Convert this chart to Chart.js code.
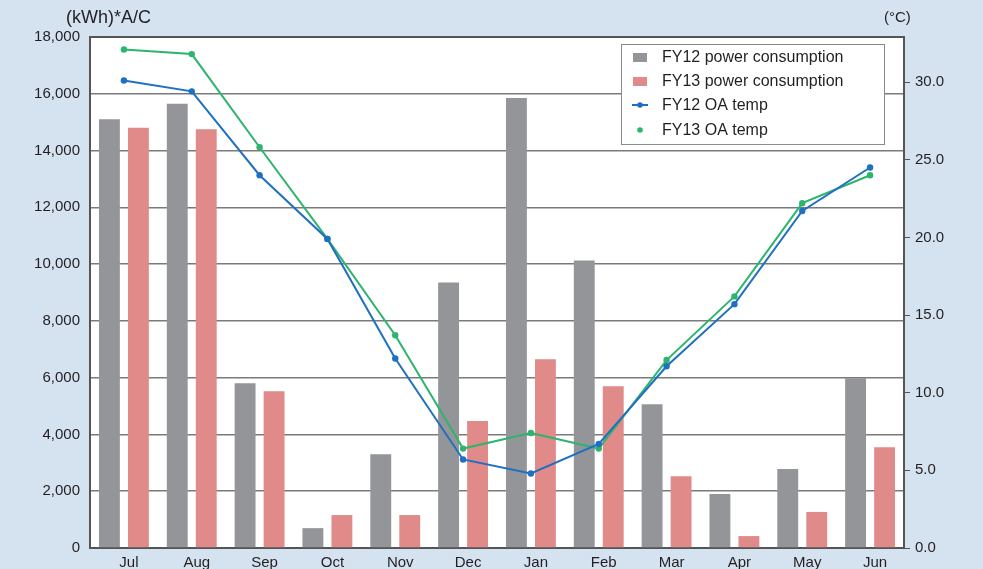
<!DOCTYPE html>
<html>
<head>
<meta charset="utf-8">
<script src="https://cdn.jsdelivr.net/npm/chart.js@4"></script>
<style>
  html, body { margin: 0; padding: 0; background: #d5e2f0; }
  #wrap { width: 983px; height: 569px; position: relative; }
</style>
</head>
<body>
<div id="wrap"><canvas id="myChart" width="983" height="569"></canvas></div>
<script>
// data
var months = ['Jul', 'Aug', 'Sep', 'Oct', 'Nov', 'Dec', 'Jan', 'Feb', 'Mar', 'Apr', 'May', 'Jun'];
var power12 = [15100, 15650, 5800, 700, 3300, 9350, 15850, 10130, 5060, 1900, 2780, 5980];
var power13 = [14800, 14750, 5520, 1160, 1160, 4470, 6650, 5700, 2530, 420, 1270, 3550];
var temp12 = [30.1, 29.4, 24.0, 19.9, 12.2, 5.7, 4.8, 6.7, 11.7, 15.7, 21.7, 24.5];
var temp13 = [32.1, 31.8, 25.8, 19.9, 13.7, 6.4, 7.4, 6.4, 12.1, 16.2, 22.2, 24.0];
var leftTicks = [0, 2000, 4000, 6000, 8000, 10000, 12000, 14000, 16000, 18000];
var rightTicks = [0, 5, 10, 15, 20, 25, 30];

var grey = '#939598';
var pink = '#e08a8a';
var blue = '#1f70c1';
var green = '#2db46e';
var textCol = '#231f20';
var fontFam = '"Liberation Sans", Arial, sans-serif';

var decor = {
    id: 'decor',
    beforeDraw: function(chart){
        var ctx = chart.ctx;
        var a = chart.chartArea;
        ctx.save();
        ctx.fillStyle = '#d5e2f0';
        ctx.fillRect(0, 0, chart.width, chart.height);
        ctx.fillStyle = '#ffffff';
        ctx.fillRect(a.left, a.top, a.right - a.left, a.bottom - a.top);
        ctx.restore();
    },
    afterDraw: function(chart){
        var ctx = chart.ctx;
        var a = chart.chartArea;
        ctx.save();
        // top frame line
        ctx.strokeStyle = '#555555';
        ctx.lineWidth = 2;
        ctx.beginPath();
        ctx.moveTo(a.left, a.top);
        ctx.lineTo(a.right, a.top);
        ctx.stroke();

        // axis unit labels
        ctx.fillStyle = textCol;
        ctx.textBaseline = 'middle';
        ctx.textAlign = 'left';
        ctx.font = '18px ' + fontFam;
        ctx.fillText('(kWh)*A/C', 66, 18);
        ctx.font = '15px ' + fontFam;
        ctx.fillText('(\u00b0C)', 884, 18);

        // legend box
        var bx = 621, by = 44, bw = 263, bh = 100;
        ctx.fillStyle = '#ffffff';
        ctx.fillRect(bx, by, bw, bh);
        ctx.strokeStyle = '#8a8a8a';
        ctx.lineWidth = 1;
        ctx.strokeRect(bx + 0.5, by + 0.5, bw, bh);

        var rows = [57, 81, 105, 130];
        chart.data.datasets.forEach(function(ds, i){
            var y = rows[i];
            if (ds.type === 'bar') {
                ctx.fillStyle = ds.backgroundColor;
                ctx.fillRect(633, y - 4, 14, 9);
            } else {
                if (ds.legendLine) {
                    ctx.strokeStyle = ds.borderColor;
                    ctx.lineWidth = 2;
                    ctx.beginPath();
                    ctx.moveTo(632, y);
                    ctx.lineTo(648, y);
                    ctx.stroke();
                }
                ctx.fillStyle = ds.borderColor;
                ctx.beginPath();
                ctx.arc(640, y, 2.8, 0, Math.PI * 2);
                ctx.fill();
            }
            ctx.fillStyle = textCol;
            ctx.font = '16px ' + fontFam;
            ctx.textAlign = 'left';
            ctx.fillText(ds.label, 662, y + 1);
        });
        ctx.restore();
    }
};

const ctx = document.getElementById('myChart').getContext('2d');
const myChart = new Chart(ctx, {
    data: {
        labels: months,
        datasets: [
            { type: 'bar', label: 'FY12 power consumption', data: power12, backgroundColor: grey, yAxisID: 'y', order: 2,
              categoryPercentage: 0.855, barPercentage: 0.72 },
            { type: 'bar', label: 'FY13 power consumption', data: power13, backgroundColor: pink, yAxisID: 'y', order: 2,
              categoryPercentage: 0.855, barPercentage: 0.72 },
            { type: 'line', label: 'FY12 OA temp', data: temp12, borderColor: blue, backgroundColor: blue, yAxisID: 'y2', order: 0,
              borderWidth: 2, pointRadius: 3.2, pointBackgroundColor: blue, pointBorderWidth: 0, tension: 0, legendLine: true },
            { type: 'line', label: 'FY13 OA temp', data: temp13, borderColor: green, backgroundColor: green, yAxisID: 'y2', order: 1,
              borderWidth: 2, pointRadius: 3.2, pointBackgroundColor: green, pointBorderWidth: 0, tension: 0, legendLine: false }
        ]
    },
    options: {
        responsive: false,
        animation: false,
        layout: { padding: { top: 37, right: 0, left: 0, bottom: 0 } },
        plugins: { legend: { display: false }, tooltip: { enabled: false } },
        scales: {
            x: {
                grid: { display: false, drawTicks: false, tickLength: 0 },
                border: { display: true, color: '#555555', width: 2 },
                ticks: { color: textCol, font: { family: fontFam, size: 15 }, padding: 6, maxRotation: 0, labelOffset: 5 },
                afterFit: function(s){ s.height = 21; }
            },
            y: {
                position: 'left',
                min: 0,
                max: 18000,
                afterBuildTicks: function(s){ s.ticks = leftTicks.map(function(v){ return { value: v }; }); },
                grid: { color: '#7a7a7a', lineWidth: 1.5, drawTicks: false },
                border: { display: true, color: '#555555', width: 2 },
                ticks: { color: textCol, font: { family: fontFam, size: 15 }, padding: 10,
                    callback: function(v){ return v.toLocaleString('en-US'); } },
                afterFit: function(s){ s.width = 90; }
            },
            y2: {
                position: 'right',
                min: 0,
                max: 32.9,
                afterBuildTicks: function(s){ s.ticks = rightTicks.map(function(v){ return { value: v }; }); },
                grid: { drawOnChartArea: false, color: '#555555', tickLength: 6, lineWidth: 1 },
                border: { display: true, color: '#555555', width: 2 },
                ticks: { color: textCol, font: { family: fontFam, size: 15 }, padding: 5,
                    callback: function(v){ return Number(v).toFixed(1); } },
                afterFit: function(s){ s.width = 79; }
            }
        }
    },
    plugins: [decor]
});
</script>
</body>
</html>
